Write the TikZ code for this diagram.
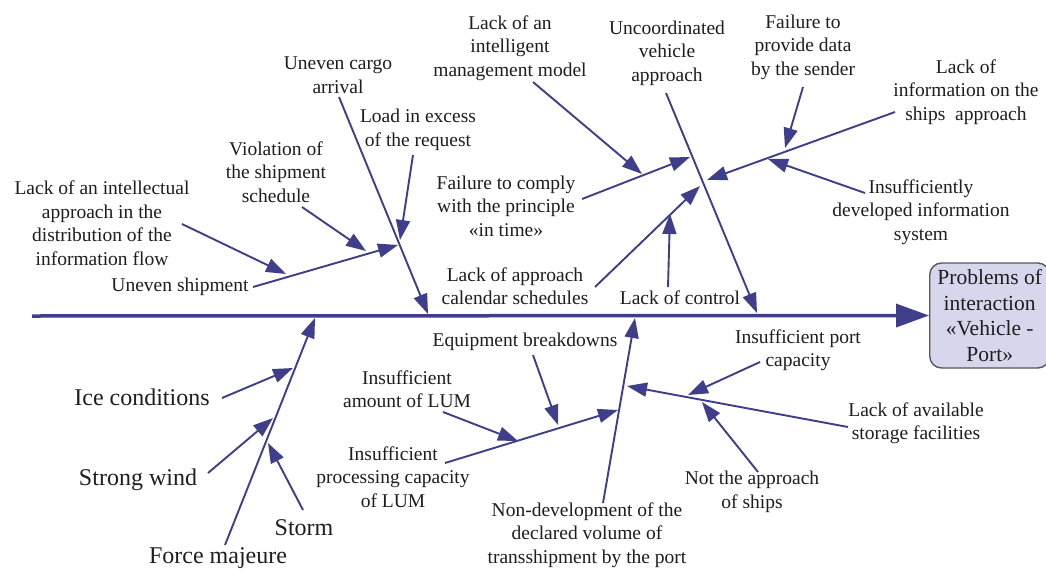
\documentclass[tikz,border=0pt]{standalone}
\usepackage{fontspec}
\setmainfont{Liberation Serif}
\usetikzlibrary{arrows.meta}
\definecolor{bonec}{RGB}{62,62,138}
\definecolor{headfill}{RGB}{214,214,236}
\definecolor{headdraw}{RGB}{85,85,100}
\definecolor{txt}{RGB}{30,30,30}
\tikzset{
  lbl/.style={align=center, inner sep=0pt, text=txt, font=\fontsize{19.5}{23.5}\selectfont},
  biglbl/.style={align=center, inner sep=0pt, text=txt, font=\fontsize{24}{28}\selectfont},
  bone/.style={draw=bonec, line width=1.9pt, -{Triangle[length=20pt,width=14pt]}},
  spine/.style={draw=bonec, line width=3.5pt, -{Triangle[length=33pt,width=23pt]}},
  headbox/.style={draw=headdraw, fill=headfill, line width=1.4pt, rounded corners=12pt,
    minimum width=120pt, minimum height=105pt, inner sep=0pt, align=center, text=txt,
    font=\fontsize{21.5}{25.5}\selectfont}
}
\begin{document}
\begin{tikzpicture}[x=1pt,y=-1pt]
\useasboundingbox (0,0) rectangle (1046,570);
\fill[white] (0,0) rectangle (1046,570);

% head
\node[headbox, anchor=west] (head) at (929,315.5) {Problems of\\interaction\\«Vehicle -\\Port»};

% labels upper
\node[lbl] (tuca) at (338,75) {Uneven cargo\\arrival};
\node[lbl] (tload) at (418,130) {Load in excess\\of the request};
\node[lbl] (tviol) at (276,172) {Violation of\\the shipment\\schedule};
\node[lbl] (tlackint) at (102,223) {Lack of an intellectual\\approach in the\\distribution of the\\information flow};
\node[lbl] (tunship) at (180,287) {Uneven shipment};
\node[lbl] (tlim) at (510,48) {Lack of an\\intelligent\\management model};
\node[lbl] (tuva) at (667,53) {Uncoordinated\\vehicle\\approach};
\node[lbl] (tfpd) at (803,47) {Failure to\\provide data\\by the sender};
\node[lbl] (tlis) at (966,92) {Lack of\\information on the\\ships\ \ approach};
\node[lbl] (tftc) at (506,206) {Failure to comply\\with the principle\\«in time»};
\node[lbl] (tidis) at (921,212) {Insufficiently\\developed information\\system};
\node[lbl] (tlacs) at (515,286) {Lack of approach\\calendar schedules};
\node[lbl] (tlc) at (680,298) {Lack of control};

% labels lower
\node[biglbl] (tice) at (142,397) {Ice conditions};
\node[biglbl] (tsw) at (138,480) {Strong wind};
\node[biglbl] (tstorm) at (304,528) {Storm};
\node[biglbl] (tfm) at (218,558) {Force majeure};
\node[lbl] (tiam) at (407,389) {Insufficient\\amount of LUM};
\node[lbl] (tipcl) at (393,477) {Insufficient\\processing capacity\\of LUM};
\node[lbl] (teb) at (525,342) {Equipment breakdowns};
\node[lbl] (tnd) at (587,535) {Non-development of the\\declared volume of\\transshipment by the port};
\node[lbl] (tipc) at (798,350) {Insufficient port\\capacity};
\node[lbl] (tlas) at (916,423) {Lack of available\\storage facilities};
\node[lbl] (tnta) at (752,492) {Not the approach\\of ships};

% coordinates
\coordinate (s0) at (32,316);
\coordinate (a0) at (339,97);   \coordinate (a1) at (428,314);
\coordinate (a10) at (253,287); \coordinate (a11) at (398,245);
\coordinate (a20) at (182,224); \coordinate (a21) at (286,274);
\coordinate (a30) at (302,207); \coordinate (a31) at (366,251);
\coordinate (a40) at (413,155); \coordinate (a41) at (400,240);

\coordinate (b0) at (666,93);   \coordinate (b1) at (757,313);
\coordinate (b10) at (895,112); \coordinate (b11) at (707,180);
\coordinate (b20) at (803,87);  \coordinate (b21) at (785,148);
\coordinate (b30) at (865,193); \coordinate (b31) at (768,159);
\coordinate (b40) at (582,199); \coordinate (b41) at (690,157);
\coordinate (b50) at (533,82);  \coordinate (b51) at (642,174);
\coordinate (b60) at (595,287); \coordinate (b61) at (700,186);
\coordinate (b70) at (668,287); \coordinate (b71) at (670,214);

\coordinate (c0) at (225,545);  \coordinate (c1) at (315,318);
\coordinate (c10) at (222,398); \coordinate (c11) at (293,368);
\coordinate (c20) at (208,473); \coordinate (c21) at (273,418);
\coordinate (c30) at (303,510); \coordinate (c31) at (268,443);

\coordinate (d0) at (603,503);  \coordinate (d1) at (635,318);
\coordinate (d10) at (445,463); \coordinate (d11) at (618,410);
\coordinate (d20) at (443,412); \coordinate (d21) at (518,441);
\coordinate (d30) at (533,355); \coordinate (d31) at (558,425);
\coordinate (d40) at (848,427); \coordinate (d41) at (627,386);
\coordinate (d50) at (760,362); \coordinate (d51) at (688,395);
\coordinate (d60) at (758,472); \coordinate (d61) at (702,402);

% spine
\draw[spine] (s0) -- (head.west);

% bones
\draw[bone] (a0) -- (a1);
\draw[bone] (a10) -- (a11);
\draw[bone] (a20) -- (a21);
\draw[bone] (a30) -- (a31);
\draw[bone] (a40) -- (a41);

\draw[bone] (b0) -- (b1);
\draw[bone] (b10) -- (b11);
\draw[bone] (b20) -- (b21);
\draw[bone] (b30) -- (b31);
\draw[bone] (b40) -- (b41);
\draw[bone] (b50) -- (b51);
\draw[bone] (b60) -- (b61);
\draw[bone] (b70) -- (b71);

\draw[bone] (c0) -- (c1);
\draw[bone] (c10) -- (c11);
\draw[bone] (c20) -- (c21);
\draw[bone] (c30) -- (c31);

\draw[bone] (d0) -- (d1);
\draw[bone] (d10) -- (d11);
\draw[bone] (d20) -- (d21);
\draw[bone] (d30) -- (d31);
\draw[bone] (d40) -- (d41);
\draw[bone] (d50) -- (d51);
\draw[bone] (d60) -- (d61);
\end{tikzpicture}
\end{document}
